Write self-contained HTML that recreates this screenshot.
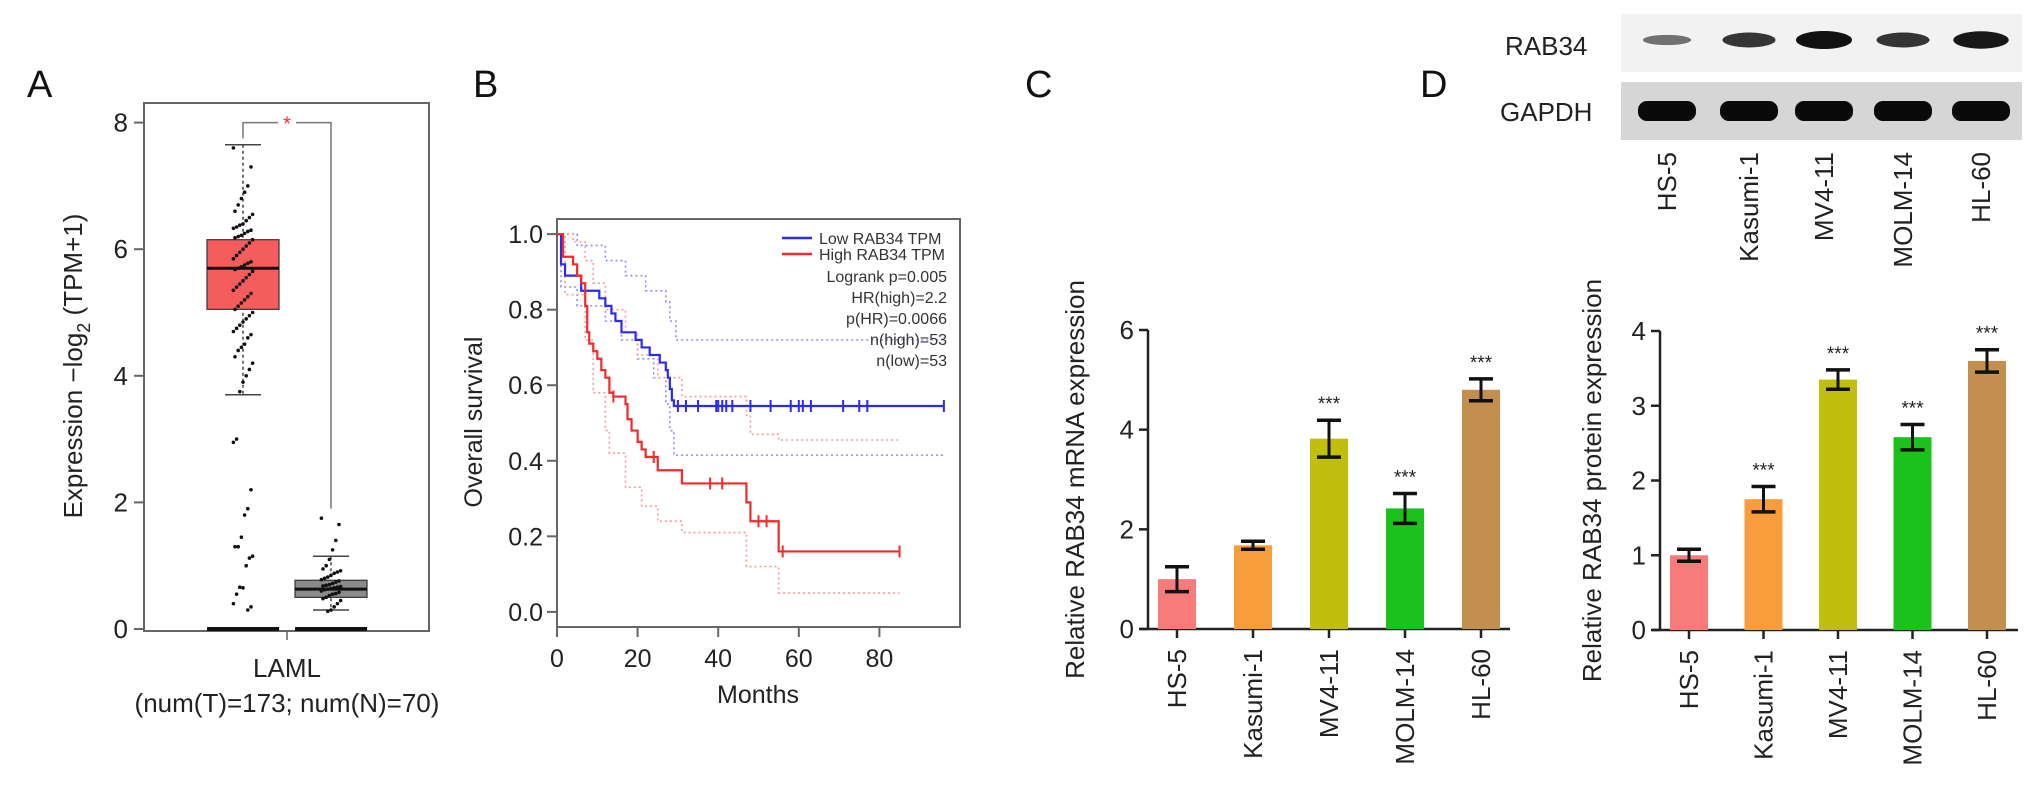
<!DOCTYPE html>
<html><head><meta charset="utf-8">
<style>
html,body{margin:0;padding:0;background:#fff;}
svg{display:block;font-family:"Liberation Sans",Arial,sans-serif;}
</style></head>
<body>
<svg id="fig" width="2032" height="786" viewBox="0 0 2032 786" xmlns="http://www.w3.org/2000/svg">
<g id="pA"></g>
<g id="pB"></g>
<g id="pC"></g>
<g id="pD"></g>
</svg>
<script>
// ---------- Panel A data ----------
const aTumorPoints = [7.6,7.3,7.0,6.9,6.8,6.7,6.6,6.55,6.5,6.45,6.4,6.38,6.35,6.33,6.3,6.28,6.25,6.22,6.2,6.18,6.15,6.1,6.05,6.0,5.95,5.9,5.85,5.8,5.78,5.75,5.72,5.7,5.68,5.65,5.6,5.55,5.5,5.45,5.4,5.35,5.3,5.25,5.2,5.15,5.1,5.05,5.0,4.95,4.9,4.85,4.8,4.75,4.7,4.65,4.6,4.5,4.45,4.4,4.3,4.2,4.1,4.0,3.9,3.75,3.0,2.95,2.2,1.9,1.8,1.45,1.3,1.3,1.15,1.12,1.0,0.65,0.66,0.55,0.4,0.35,0.3];
const aNormalPoints = [1.75,1.65,1.4,1.25,1.1,1.0,0.95,0.92,0.9,0.88,0.85,0.82,0.8,0.78,0.76,0.74,0.72,0.7,0.69,0.68,0.67,0.66,0.65,0.64,0.63,0.62,0.6,0.58,0.56,0.55,0.53,0.5,0.48,0.45,0.4,0.35,0.3,0.28];
const aBoxStats = [[3.7,5.05,5.7,6.15,7.65],[0.3,0.5,0.63,0.77,1.15]];
const aTicks = [0,2,4,6,8];

// ---------- Panel B data ----------
const bLowSteps = [[0,1],[1,0.92],[2,0.89],[6,0.85],[10.5,0.83],[12,0.81],[13.5,0.79],[14.5,0.77],[16,0.74],[19.5,0.72],[21,0.70],[23,0.68],[25.5,0.66],[27,0.64],[27.5,0.62],[28,0.59],[28.5,0.56],[29,0.545]];
const bLowEnd = 96;
const bLowCensor = [30,32,35,39.5,40,41,42,43.5,48,53,58,60,61,63,71,75,77,96];
const bHighSteps = [[0,1],[1.5,0.94],[4,0.92],[5,0.89],[6,0.87],[7,0.81],[7.5,0.74],[8,0.71],[9,0.69],[10,0.67],[11,0.64],[12,0.62],[13,0.58],[14,0.57],[17,0.55],[17.5,0.51],[18.5,0.48],[20,0.45],[21,0.43],[22,0.41],[25,0.375],[31,0.34],[47,0.29],[48,0.24],[55,0.16]];
const bHighEnd = 85;
const bHighCensor = [14,24,38,41,50,52,56,85];
const bLowUpper = [[0,1],[5,0.97],[12,0.93],[17,0.89],[22,0.85],[27,0.82],[28,0.77],[29.5,0.72]];
const bLowLower = [[0,1],[1,0.86],[5,0.81],[12,0.77],[16,0.72],[20,0.67],[24,0.62],[27,0.55],[28,0.48],[29,0.415]];
const bHighUpper = [[0,1],[4,0.98],[7,0.93],[9,0.87],[12,0.80],[17,0.74],[20,0.68],[25,0.62],[31,0.57],[47,0.52],[48,0.47],[55,0.455]];
const bHighLower = [[0,1],[2,0.84],[7,0.72],[9,0.58],[12,0.48],[13,0.42],[17,0.33],[21,0.28],[25,0.24],[31,0.21],[47,0.12],[48,0.12],[55,0.05]];
const bYTicks = [0.0,0.2,0.4,0.6,0.8,1.0];
const bXTicks = [0,20,40,60,80];
const bStats = ["Logrank p=0.005","HR(high)=2.2","p(HR)=0.0066","n(high)=53","n(low)=53"];

// ---------- Panel C/D data ----------
const cellLines = ["HS-5","Kasumi-1","MV4-11","MOLM-14","HL-60"];
const barColors = ["#f77b7b","#f99c3c","#c2be0e","#1cc21c","#c28f4f"];
const cMeans = [1.0,1.68,3.82,2.42,4.8];
const cErrs = [0.25,0.08,0.37,0.3,0.22];
const cSig = ["","","***","***","***"];
const cTicks = [0,2,4,6];
const dMeans = [1.0,1.75,3.35,2.58,3.6];
const dErrs = [0.08,0.17,0.13,0.17,0.15];
const dSig = ["","***","***","***","***"];
const dTicks = [0,1,2,3,4];
const blotRab = [0.35,0.75,1.0,0.75,0.95];

const NS="http://www.w3.org/2000/svg";
function mk(parent,tag,attrs,text){const e=document.createElementNS(NS,tag);for(const k in attrs)e.setAttribute(k,attrs[k]);if(text!==undefined)e.textContent=text;parent.appendChild(e);return e;}

// ================= Panel A =================
(function(){
const g=document.getElementById('pA');
const yA=v=>629-v*63.3;
let t=mk(g,'text',{x:27,y:97,'font-size':38,fill:'#111'},'A');


let fr=mk(g,'rect',{x:144,y:103,width:285,height:528,fill:'none',stroke:'#666','stroke-width':2});


aTicks.forEach(v=>{
  mk(g,'line',{x1:134,x2:144,y1:yA(v),y2:yA(v),stroke:'#666','stroke-width':2});
  let l=mk(g,'text',{x:128,y:yA(v)+9,'font-size':26,'text-anchor':'end',fill:'#222'},String(v));
  
  
});
let yt=mk(g,'text',{transform:'translate(82,366) rotate(-90)','font-size':26,'text-anchor':'middle',fill:'#222'});


yt.innerHTML='Expression \u2212log<tspan font-size="18" dy="8">2</tspan><tspan dy="-8"> (TPM+1)</tspan>';
const centers=[243,331], fills=['#f55d5d','#8a8a8a'];
aBoxStats.forEach((s,i)=>{
  const c=centers[i];
  mk(g,'line',{x1:c,x2:c,y1:yA(s[4]),y2:yA(s[0]),stroke:'#444','stroke-width':1.5,'stroke-dasharray':'3,3'});
  mk(g,'line',{x1:c-18,x2:c+18,y1:yA(s[4]),y2:yA(s[4]),stroke:'#444','stroke-width':1.5});
  mk(g,'line',{x1:c-18,x2:c+18,y1:yA(s[0]),y2:yA(s[0]),stroke:'#444','stroke-width':1.5});
  let b=mk(g,'rect',{x:c-36,y:yA(s[3]),width:72,height:yA(s[1])-yA(s[3]),fill:fills[i],stroke:'#333','stroke-width':1.2});
  
  
  mk(g,'line',{x1:c-36,x2:c+36,y1:yA(s[2]),y2:yA(s[2]),stroke:'#111','stroke-width':3});
  mk(g,'line',{x1:c-36,x2:c+36,y1:yA(0),y2:yA(0),stroke:'#111','stroke-width':4});
});
const drawPts=(arr,c)=>arr.forEach((v,i)=>{
  const jit=((i*37)%13-6)*1.6;
  let p=mk(g,'circle',{cx:c+jit,cy:yA(v),r:1.8,fill:'#111'});
  
  
});
drawPts(aTumorPoints,centers[0]);drawPts(aNormalPoints,centers[1]);
mk(g,'polyline',{points:`${centers[0]},${yA(7.75)} ${centers[0]},${yA(8)} ${centers[1]},${yA(8)} ${centers[1]},${yA(1.9)}`,fill:'none',stroke:'#777','stroke-width':1.5});
mk(g,'rect',{x:278,y:yA(8)-6,width:18,height:12,fill:'#fff'});
let st=mk(g,'text',{x:287,y:yA(8)+8,'font-size':20,'text-anchor':'middle',fill:'#e33'},'*');


mk(g,'line',{x1:287,x2:287,y1:631,y2:640,stroke:'#666','stroke-width':1.5});
let x1=mk(g,'text',{x:287,y:677,'font-size':26,'text-anchor':'middle',fill:'#222'},'LAML');


let x2=mk(g,'text',{x:287,y:712,'font-size':26,'text-anchor':'middle',fill:'#222'},'(num(T)=173; num(N)=70)');


})();

// ================= Panel B =================
(function(){
const g=document.getElementById('pB');
const L=557,R=960,T=219,B=627;
const xB=m=>L+m/100*(R-L);
const yB=v=>(T+0.037*(B-T))+(1-v)*(0.926*(B-T));
let t=mk(g,'text',{x:473,y:97,'font-size':38,fill:'#111'},'B');


let fr=mk(g,'rect',{x:L,y:T,width:R-L,height:B-T,fill:'none',stroke:'#666','stroke-width':2});


bYTicks.forEach(v=>{
  mk(g,'line',{x1:L-10,x2:L,y1:yB(v),y2:yB(v),stroke:'#666','stroke-width':2});
  let l=mk(g,'text',{x:543,y:yB(v)+9,'font-size':25,'text-anchor':'end',fill:'#222'},v.toFixed(1));
  
  
});
bXTicks.forEach(v=>{
  mk(g,'line',{x1:xB(v),x2:xB(v),y1:B,y2:B+10,stroke:'#666','stroke-width':2});
  let l=mk(g,'text',{x:xB(v),y:B+40,'font-size':25,'text-anchor':'middle',fill:'#222'},String(v));
  
  
});
let yt=mk(g,'text',{transform:'translate(482,422) rotate(-90)','font-size':25,'text-anchor':'middle',fill:'#222'},'Overall survival');


let xt=mk(g,'text',{x:758,y:B+76,'font-size':25,'text-anchor':'middle',fill:'#222'},'Months');


const stepPath=(steps,end)=>{let d=`M${xB(steps[0][0])},${yB(steps[0][1])}`;for(let i=1;i<steps.length;i++){d+=` H${xB(steps[i][0])} V${yB(steps[i][1])}`;}d+=` H${xB(end)}`;return d;};
const band=(arr,end,col,name)=>{let p=mk(g,'path',{d:stepPath(arr,end),fill:'none',stroke:col,'stroke-width':1.6,'stroke-dasharray':'2,3'});};
band(bLowUpper,bLowEnd,'#8f8ff0','low-ci-upper');
band(bLowLower,bLowEnd,'#8f8ff0','low-ci-lower');
band(bHighUpper,bHighEnd,'#f59a9a','high-ci-upper');
band(bHighLower,bHighEnd,'#f59a9a','high-ci-lower');
const curve=(steps,end,cens,col,name)=>{
  let p=mk(g,'path',{d:stepPath(steps,end),fill:'none',stroke:col,'stroke-width':2.2});
  
  
  cens.forEach(m=>{let v=steps[0][1];steps.forEach(s=>{if(s[0]<=m)v=s[1];});
    let c=mk(g,'line',{x1:xB(m),x2:xB(m),y1:yB(v)-6,y2:yB(v)+6,stroke:col,'stroke-width':2});
    
    });
};
curve(bLowSteps,bLowEnd,bLowCensor,'#2b2bf0','low-rab34-curve');
curve(bHighSteps,bHighEnd,bHighCensor,'#f02b2b','high-rab34-curve');
const lg=mk(g,'g',{});


mk(lg,'line',{x1:782,x2:812,y1:238,y2:238,stroke:'#2b2bf0','stroke-width':2.5});
mk(lg,'line',{x1:782,x2:812,y1:254,y2:254,stroke:'#f02b2b','stroke-width':2.5});
let e1=mk(lg,'text',{x:819,y:244,'font-size':16,fill:'#333'},'Low RAB34 TPM');


let e2=mk(lg,'text',{x:819,y:260,'font-size':16,fill:'#333'},'High RAB34 TPM');


bStats.forEach((s,i)=>{let e=mk(lg,'text',{x:947,y:282+i*21,'font-size':16,'text-anchor':'end',fill:'#333'},s);
  
  });
})();

// ================= Bar panels =================
function barPanel(gid,o){
const g=document.getElementById(gid);
const yS=v=>o.y0-v*(o.y0-o.yTop)/o.max;
let t=mk(g,'text',{x:o.lx,y:o.ly,'font-size':38,fill:'#111'},o.letter);


mk(g,'line',{x1:o.ax,x2:o.ax,y1:o.yTop,y2:o.y0,stroke:'#222','stroke-width':2.5});
mk(g,'line',{x1:o.ax-8,x2:o.axEnd,y1:o.y0,y2:o.y0,stroke:'#222','stroke-width':2.5});
o.ticks.forEach(v=>{
  mk(g,'line',{x1:o.ax-9,x2:o.ax,y1:yS(v),y2:yS(v),stroke:'#222','stroke-width':2.5});
  let l=mk(g,'text',{x:o.ax-14,y:yS(v)+9,'font-size':26,'text-anchor':'end',fill:'#222'},String(v));
  
  
});
let yt=mk(g,'text',{transform:`translate(${o.tx},${(o.y0+o.yTop)/2}) rotate(-90)`,'font-size':26,'text-anchor':'middle',fill:'#222'},o.title);


cellLines.forEach((c,i)=>{
  const cx=o.x0+i*o.step, m=o.means[i], e=o.errs[i];
  let b=mk(g,'rect',{x:cx-19,y:yS(m),width:38,height:o.y0-yS(m),fill:barColors[i]});
  
  
  const eb=mk(g,'g',{});
  
  
  mk(eb,'line',{x1:cx,x2:cx,y1:yS(m+e),y2:yS(m-e),stroke:'#111','stroke-width':3});
  mk(eb,'line',{x1:cx-12,x2:cx+12,y1:yS(m+e),y2:yS(m+e),stroke:'#111','stroke-width':3.5});
  mk(eb,'line',{x1:cx-12,x2:cx+12,y1:yS(m-e),y2:yS(m-e),stroke:'#111','stroke-width':3.5});
  if(o.sig[i]){let s=mk(g,'text',{x:cx,y:yS(m+e)-10,'font-size':19,'text-anchor':'middle',fill:'#222'},o.sig[i]);
    
    }
  mk(g,'line',{x1:cx,x2:cx,y1:o.y0,y2:o.y0+9,stroke:'#222','stroke-width':2.5});
  let l=mk(g,'text',{transform:`translate(${cx+9},${o.y0+20}) rotate(-90)`,'font-size':26,'text-anchor':'end',fill:'#222'},c);
  
  
});
}
barPanel('pC',{letter:'C',lx:1025,ly:97,prefix:'c',ax:1148,axEnd:1510,y0:629,yTop:330,max:6,x0:1177,step:76,means:cMeans,errs:cErrs,sig:cSig,ticks:cTicks,tx:1084,title:'Relative RAB34 mRNA expression'});
barPanel('pD',{letter:'D',lx:1420,ly:97,prefix:'d',ax:1660,axEnd:2018,y0:630,yTop:331,max:4,x0:1689,step:74.5,means:dMeans,errs:dErrs,sig:dSig,ticks:dTicks,tx:1601,title:'Relative RAB34 protein expression'});

// ================= Western blot =================
(function(){
const g=document.getElementById('pD');
const bg=mk(g,'g',{});


mk(bg,'rect',{x:1621,y:14,width:401,height:58,fill:'#f2f2f2'});
mk(bg,'rect',{x:1621,y:82,width:401,height:58,fill:'#d6d6d6'});
const lanes=[1667,1749,1824,1903,1981];
lanes.forEach((x,i)=>{
  const a=blotRab[i];
  let r=mk(bg,'ellipse',{cx:x,cy:40,rx:22+a*6,ry:3+a*6,fill:'#111','fill-opacity':0.35+a*0.65});
  
  
  let gp=mk(bg,'rect',{x:x-29,y:101,width:58,height:20,rx:9,fill:'#0a0a0a'});
  
  
  let l=mk(g,'text',{transform:`translate(${x+9},152) rotate(-90)`,'font-size':26,'text-anchor':'end',fill:'#222'},cellLines[i]);
  
  
});
let r1=mk(g,'text',{x:1505,y:55,'font-size':26,fill:'#222'},'RAB34');


let r2=mk(g,'text',{x:1500,y:121,'font-size':26,fill:'#222'},'GAPDH');


})();
</script>
</body></html>
